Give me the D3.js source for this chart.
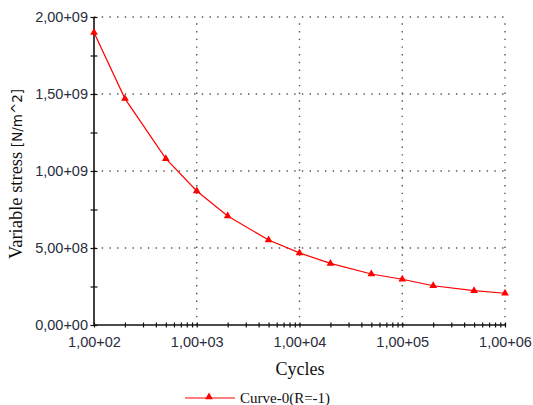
<!DOCTYPE html>
<html>
<head>
<meta charset="utf-8">
<script src="https://cdn.jsdelivr.net/npm/d3@7"></script>
<style>
  body { margin: 0; background: #fff; }
  svg { display: block; }
</style>
</head>
<body>
<svg width="533" height="405"></svg>
<script>
// S-N curve data
const cycles = [1e2, 2e2, 5e2, 1e3, 2e3, 5e3, 1e4, 2e4, 5e4, 1e5, 2e5, 5e5, 1e6];
const stress = [1.90e9, 1.47e9, 1.08e9, 8.7e8, 7.08e8, 5.52e8, 4.68e8, 4.0e8, 3.31e8, 2.97e8, 2.55e8, 2.23e8, 2.06e8];

const xTicks = [1e2, 1e3, 1e4, 1e5, 1e6];
const xTickLabels = ['1,00+02', '1,00+03', '1,00+04', '1,00+05', '1,00+06'];
const yTicks = [0, 5e8, 1e9, 1.5e9, 2e9];
const yTickLabels = ['0,00+00', '5,00+08', '1,00+09', '1,50+09', '2,00+09'];
const seriesName = 'Curve-0(R=-1)';

const svg = d3.select('svg');
const red = '#ff0000';
const labelColor = '#2a2d3c';

const x = d3.scaleLog().domain([1e2, 1e6]).range([94, 505]);
const y = d3.scaleLinear().domain([0, 2e9]).range([325, 17]);

// minor ticks
const xMinor = [];
for (let p = 2; p < 6; p++) {
    for (let m = 1; m < 10; m++) xMinor.push(m * Math.pow(10, p));
}
xMinor.push(1e6);
const yMinor = d3.range(0, 2e9 + 1, 2.5e8);

// grid
const grid = svg.append('g')
    .style('stroke', '#555')
    .style('stroke-width', 1.4)
    .style('stroke-dasharray', '1.4 6.3');

grid.selectAll('.vg')
    .data(xTicks.slice(1))
    .enter()
    .append('line')
    .attr('x1', (d) => x(d))
    .attr('x2', (d) => x(d))
    .attr('y1', y(0))
    .attr('y2', y(2e9));

grid.selectAll('.hg')
    .data(yTicks.slice(1))
    .enter()
    .append('line')
    .attr('x1', x(1e2))
    .attr('x2', x(1e6))
    .attr('y1', (d) => y(d))
    .attr('y2', (d) => y(d));

// axes: ticks crossing the axis line
function tickStyle(g) {
    g.select('.domain').remove();
    g.selectAll('line').attr('stroke', '#111').attr('stroke-width', 1.2);
}

svg.append('g')
    .attr('transform', `translate(${x(1e2)},0)`)
    .call(d3.axisLeft(y).tickValues(yMinor).tickSize(3.5).tickFormat(''))
    .call(tickStyle);
svg.append('g')
    .attr('transform', `translate(${x(1e2)},0)`)
    .call(d3.axisRight(y).tickValues(yMinor).tickSize(3.5).tickFormat(''))
    .call(tickStyle);

svg.append('g')
    .attr('transform', `translate(0,${y(0)})`)
    .call(d3.axisBottom(x).tickValues(xMinor).tickSize(2.5).tickFormat(''))
    .call(tickStyle);
svg.append('g')
    .attr('transform', `translate(0,${y(0)})`)
    .call(d3.axisTop(x).tickValues(xMinor).tickSize(2.5).tickFormat(''))
    .call(tickStyle);

// axis lines
svg.append('line')
    .attr('x1', x(1e2)).attr('x2', x(1e2))
    .attr('y1', y(0)).attr('y2', y(2e9))
    .style('stroke', '#111').style('stroke-width', 1.6);
svg.append('line')
    .attr('x1', x(1e2)).attr('x2', x(1e6))
    .attr('y1', y(0)).attr('y2', y(0))
    .style('stroke', '#111').style('stroke-width', 1.6);

// tick labels
const yLab = svg.append('g')
    .attr('transform', `translate(${x(1e2)},0)`)
    .call(d3.axisLeft(y).tickValues(yTicks).tickSize(0).tickPadding(6)
        .tickFormat((d, i) => yTickLabels[i]));
yLab.select('.domain').remove();
yLab.selectAll('text')
    .style('font-family', '"Liberation Sans", Arial, sans-serif')
    .style('font-size', '14.5px')
    .attr('fill', labelColor);

const xLab = svg.append('g')
    .attr('transform', `translate(0,${y(0)})`)
    .call(d3.axisBottom(x).tickValues(xTicks).tickSize(0).tickPadding(12)
        .tickFormat((d, i) => xTickLabels[i]));
xLab.select('.domain').remove();
xLab.selectAll('text')
    .style('font-family', '"Liberation Sans", Arial, sans-serif')
    .style('font-size', '14.5px')
    .attr('fill', labelColor);

// curve
const line = d3.line()
    .x((d, i) => x(cycles[i]))
    .y((d) => y(d));

svg.append('path')
    .datum(stress)
    .attr('d', line)
    .style('fill', 'none')
    .style('stroke', red)
    .style('stroke-width', 1.2);

const tri = d3.symbol().type(d3.symbolTriangle).size(26);

svg.selectAll('.pt')
    .data(stress)
    .enter()
    .append('path')
    .attr('d', tri)
    .attr('transform', (d, i) => `translate(${x(cycles[i])},${y(d)})`)
    .style('fill', red);

// axis titles
svg.append('text')
    .attr('x', 300)
    .attr('y', 375)
    .attr('text-anchor', 'middle')
    .style('font-family', '"Liberation Serif", "Times New Roman", serif')
    .style('font-size', '18px')
    .attr('fill', '#111')
    .text('Cycles');

const yTitle = svg.append('text')
    .attr('transform', 'translate(22,174) rotate(-90)')
    .attr('text-anchor', 'middle')
    .attr('fill', '#111');
yTitle.append('tspan')
    .style('font-family', '"Liberation Serif", "Times New Roman", serif')
    .style('font-size', '18.5px')
    .text('Variable stress ');
yTitle.append('tspan')
    .style('font-family', '"DejaVu Sans", sans-serif')
    .style('font-size', '13.5px')
    .text('[N/m^2]');

// legend
svg.append('line')
    .attr('x1', 185).attr('x2', 235)
    .attr('y1', 398).attr('y2', 398)
    .style('stroke', red)
    .style('stroke-width', 1.2);
svg.append('path')
    .attr('d', tri)
    .attr('transform', 'translate(209,397)')
    .style('fill', red);
svg.append('text')
    .attr('x', 240)
    .attr('y', 403)
    .style('font-family', '"Liberation Serif", "Times New Roman", serif')
    .style('font-size', '15px')
    .attr('fill', '#111')
    .text(seriesName);
</script>
</body>
</html>
